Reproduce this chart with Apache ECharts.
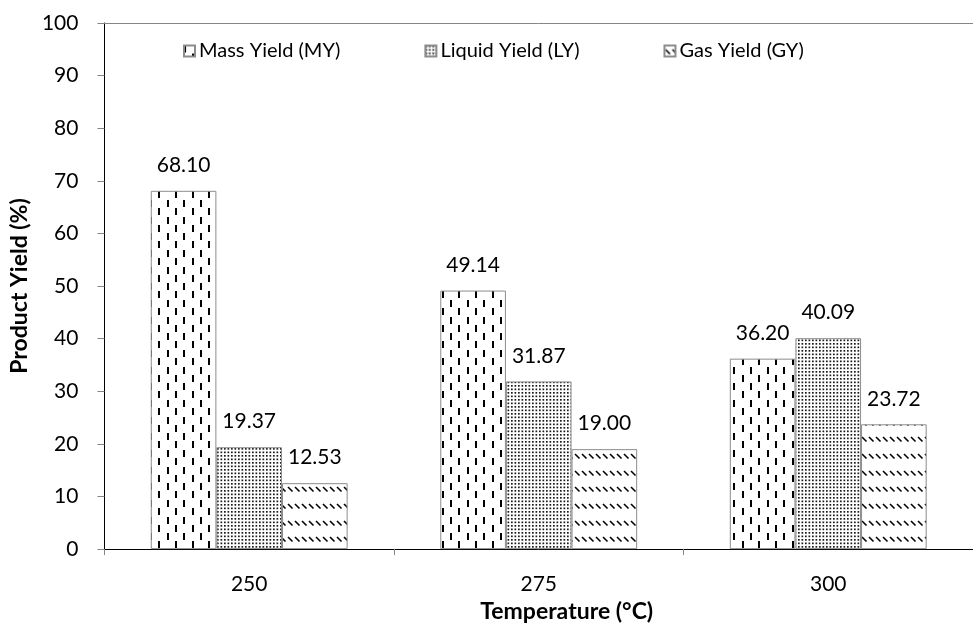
<!DOCTYPE html>
<html>
<head>
<meta charset="utf-8">
<script src="https://cdn.jsdelivr.net/npm/echarts@6/dist/echarts.min.js"></script>
<style>
  html, body { margin: 0; padding: 0; background: #fff; }
  #chart { width: 973px; height: 628px; }
</style>
</head>
<body>
<div id="chart"></div>
<script>
// Product yields by pyrolysis temperature
const temperatures = ['250', '275', '300'];
const massYield = [68.10, 49.14, 36.20];
const liquidYield = [19.37, 31.87, 40.09];
const gasYield = [12.53, 19.00, 23.72];
const seriesNames = ['Mass Yield (MY)', 'Liquid Yield (LY)', 'Gas Yield (GY)'];

const FONT = 'Lato, "Open Sans", sans-serif';

// Hatch tiles drawn on small canvases and used as repeating fills
function tile(w, h, draw) {
  const c = document.createElement('canvas');
  c.width = w; c.height = h;
  const ctx = c.getContext('2d');
  ctx.fillStyle = '#fff';
  ctx.fillRect(0, 0, w, h);
  ctx.fillStyle = '#000';
  ctx.strokeStyle = '#000';
  draw(ctx);
  return c;
}

// staggered vertical dashes
const dashTile = tile(50, 50, ctx => {
  for (let i = 0; i < 6; i++) {
    const x = Math.round(i * 50 / 6);
    const off = i % 2 ? 8 : 0;
    for (let j = 0; j < 3; j++) {
      const y = Math.round(j * 50 / 3) + off;
      ctx.fillRect(x, y, 2, 7);
      if (y + 7 > 50) ctx.fillRect(x, y - 50, 2, 7);
    }
  }
});

// fine dot grid
const dotTile = tile(7, 7, ctx => {
  ctx.fillStyle = '#1a1a1a';
  ctx.fillRect(0, 0, 1.7, 1.7);
  ctx.fillRect(3.5, 0, 1.7, 1.7);
  ctx.fillRect(0, 3.5, 1.7, 1.7);
  ctx.fillRect(3.5, 3.5, 1.7, 1.7);
});

// rows of short diagonal strokes
const diagTile = tile(49, 50, ctx => {
  ctx.lineWidth = 1.6;
  for (let r = 0; r < 3; r++) {
    const y = Math.round(r * 50 / 3) + 4;
    for (let i = 0; i < 7; i++) {
      const x = i * 7 + 1;
      ctx.beginPath();
      ctx.moveTo(x, y);
      ctx.lineTo(x + 4.5, y + 4.5);
      ctx.stroke();
    }
  }
});

const fills = [dashTile, dotTile, diagTile];
const values = [massYield, liquidYield, gasYield];

const chart = echarts.init(document.getElementById('chart'), null, { renderer: 'canvas' });

chart.setOption({
  animation: false,
  backgroundColor: '#fff',
  textStyle: { fontFamily: FONT },
  legend: {
    top: 36,
    left: 178,
    itemWidth: 11,
    itemHeight: 11,
    itemGap: 84,
    icon: 'rect',
    textStyle: { fontFamily: FONT, fontSize: 20, color: '#000', padding: [0, 0, 0, -1] },
    data: seriesNames
  },
  grid: { left: 104, top: 23, width: 881, height: 529, containLabel: false },
  xAxis: [
    {
      type: 'category',
      data: temperatures,
      name: 'Temperature (°C)',
      nameLocation: 'middle',
      nameGap: 50,
      nameTextStyle: { fontFamily: FONT, fontSize: 23, fontWeight: 'bold', color: '#000', padding: [0, 0, 0, 56] },
      axisLine: { lineStyle: { color: '#000', width: 1 } },
      axisTick: { show: true, alignWithLabel: false, length: 6, lineStyle: { color: '#868686' } },
      axisLabel: { fontFamily: FONT, fontSize: 21, color: '#000', margin: 25 },
      splitLine: { show: false }
    },
    {
      type: 'category',
      position: 'top',
      data: temperatures,
      axisLine: { show: true, lineStyle: { color: '#868686', width: 1 } },
      axisTick: { show: false },
      axisLabel: { show: false },
      splitLine: { show: false }
    }
  ],
  yAxis: {
    type: 'value',
    min: 0,
    max: 100,
    interval: 10,
    name: 'Product Yield (%)',
    nameLocation: 'middle',
    nameGap: 70,
    nameTextStyle: { fontFamily: FONT, fontSize: 23, fontWeight: 'bold', color: '#000' },
    axisLine: { show: true, lineStyle: { color: '#000', width: 1 } },
    axisTick: { show: true, length: 7, lineStyle: { color: '#868686' } },
    axisLabel: { fontFamily: FONT, fontSize: 21, color: '#000', margin: 26 },
    splitLine: { show: false }
  },
  series: seriesNames.map((name, k) => ({
    name,
    type: 'bar',
    data: values[k],
    barGap: '0%',
    barCategoryGap: '32%',
    itemStyle: {
      color: { image: fills[k], repeat: 'repeat' },
      borderColor: '#8c8c8c',
      borderWidth: 1
    },
    label: {
      show: true,
      position: 'top',
      distance: 15,
      fontFamily: FONT,
      fontSize: 21,
      color: '#000',
      formatter: p => p.value.toFixed(2)
    }
  }))
});
</script>
</body>
</html>
